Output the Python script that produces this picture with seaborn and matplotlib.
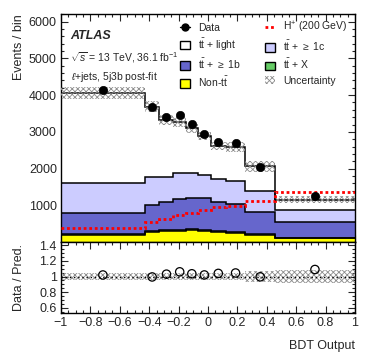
import numpy as np
import pandas as pd
import matplotlib
matplotlib.use('Agg')
import matplotlib.pyplot as plt
import seaborn as sns
from matplotlib.lines import Line2D
from matplotlib.patches import Patch
from matplotlib.ticker import MultipleLocator, FixedLocator, FuncFormatter

# bin edges of BDT output
edges = [-1, -0.43, -0.33, -0.235, -0.15, -0.07, 0.02, 0.12, 0.255, 0.455, 1]

# observed data
data = [4140, 3670, 3415, 3470, 3207, 2943, 2716, 2710, 2052, 1253]

# stacked background tops (cumulative)
top_nontt = [190, 264, 300, 308, 327, 300, 272, 253, 190, 100]
top_ttx = [215, 290, 330, 338, 357, 330, 300, 280, 215, 120]
top_tt1b = [790, 1008, 1081, 1163, 1190, 1208, 1081, 1045, 809, 553]
top_tt1c = [1620, 1763, 1775, 1872, 1872, 1835, 1708, 1671, 1390, 872]
top_total = [4060, 3690, 3315, 3274, 3099, 2885, 2612, 2593, 2060, 1150]

# signal H+ (200 GeV), not stacked
hplus = [390, 553, 627, 736, 799, 872, 955, 975, 1120, 1371]

# relative uncertainty on total prediction
rel_unc = [0.04, 0.04, 0.04, 0.04, 0.04, 0.04, 0.045, 0.05, 0.075, 0.08]

edges = np.array(edges)
centers = (edges[:-1] + edges[1:]) / 2
total = np.array(top_total, dtype=float)
unc = np.array(rel_unc)
ratio = np.array(data) / total

sns.set_style("ticks")
plt.rcParams['font.family'] = ['Liberation Sans', 'DejaVu Sans']
plt.rcParams['mathtext.fontset'] = 'custom'
plt.rcParams['mathtext.rm'] = 'Liberation Sans'
plt.rcParams['mathtext.it'] = 'Liberation Sans:italic'
plt.rcParams['mathtext.bf'] = 'Liberation Sans:bold'
plt.rcParams['hatch.linewidth'] = 0.6

fig = plt.figure(figsize=(3.74, 3.59), dpi=100)
ax = fig.add_axes([61/374, 1-242/359, 294/374, 228/359])
rax = fig.add_axes([61/374, 1-313/359, 294/374, 71/359])

# stack, drawn from top down
stack = [(top_total, 'white'), (top_tt1c, '#ccccff'), (top_tt1b, '#6666cc'),
         (top_ttx, '#66cc66'), (top_nontt, '#ffff00')]
for vals, col in stack:
    ax.stairs(vals, edges, baseline=0, fill=True, color=col, zorder=1)
    ax.stairs(vals, edges, baseline=None, color='black', lw=1.1, zorder=2)

# uncertainty band
ax.stairs(total * (1 + unc), edges, baseline=total * (1 - unc), fill=True,
          facecolor='none', edgecolor='#8c8c8c', hatch='xxxxxx', lw=0, zorder=3)
# H+ signal
ax.stairs(hplus, edges, baseline=None, color='red', lw=2, ls=(0, (1, 1)), zorder=4)

df = pd.DataFrame({'x': centers, 'y': data, 'r': ratio})
sns.scatterplot(data=df, x='x', y='y', ax=ax, color='black', s=36,
                edgecolor='black', zorder=5, legend=False)

ax.set_xlim(-1, 1)
ax.set_ylim(0, 6210)
ax.set_xlabel('')
ax.set_ylabel('Events / bin', fontsize=9, loc='top')
ax.yaxis.set_label_coords(-0.122, 1.0)
ax.yaxis.set_major_locator(FixedLocator([1000, 2000, 3000, 4000, 5000, 6000]))
ax.yaxis.set_minor_locator(MultipleLocator(200))
ax.xaxis.set_major_locator(MultipleLocator(0.2))
ax.xaxis.set_minor_locator(MultipleLocator(0.05))
ax.tick_params(labelbottom=False)

ax.text(0.03, 0.903, 'ATLAS', transform=ax.transAxes, fontsize=9,
        fontweight='bold', fontstyle='italic', va='center')
ax.text(0.03, 0.807, r'$\sqrt{s}$ = 13 TeV, 36.1 fb$^{-1}$', transform=ax.transAxes,
        fontsize=7.5, va='center')
ax.text(0.035, 0.724, r'$\ell$+jets, 5j3b post-fit', transform=ax.transAxes,
        fontsize=7.5, va='center')

tt = r'$\mathrm{t\bar{t}}$'
handles = [
    Line2D([], [], color='black', marker='o', markersize=5, lw=1),
    Patch(facecolor='white', edgecolor='black', lw=1),
    Patch(facecolor='#6666cc', edgecolor='black', lw=1),
    Patch(facecolor='#ffff00', edgecolor='black', lw=1),
    Line2D([], [], color='red', lw=2, ls=(0, (1, 1))),
    Patch(facecolor='#ccccff', edgecolor='black', lw=1),
    Patch(facecolor='#66cc66', edgecolor='black', lw=1),
    Patch(facecolor='none', edgecolor='#8c8c8c', hatch='xxxxxx', lw=0),
]
labels = ['Data', tt + ' + light', tt + r' + $\geq$ 1b', 'Non-' + tt,
          r'H$^{+}$ (200 GeV)', tt + r' + $\geq$ 1c', tt + ' + X', 'Uncertainty']
ax.legend(handles, labels, ncol=2, loc='upper left', bbox_to_anchor=(0.405, 0.975),
          frameon=False, fontsize=7.5, handlelength=0.95, handleheight=0.85,
          handletextpad=0.8, labelspacing=0.4, columnspacing=2.3, borderpad=0,
          borderaxespad=0)

# ratio panel
rax.stairs(1 + unc, edges, baseline=1 - unc, fill=True, facecolor='none',
           edgecolor='#8c8c8c', hatch='xxxxxx', lw=0, zorder=1)
rax.axhline(1, color='black', lw=1, ls=(0, (1, 2)), zorder=2)
sns.scatterplot(data=df, x='x', y='r', ax=rax, facecolor='none', s=36,
                edgecolor='black', linewidth=0.9, zorder=3, legend=False)
rax.set_xlim(-1, 1)
rax.set_ylim(0.535, 1.44)
rax.yaxis.set_major_locator(FixedLocator([0.6, 0.8, 1.0, 1.2, 1.4]))
rax.yaxis.set_minor_locator(MultipleLocator(0.05))
rax.xaxis.set_major_locator(FixedLocator([-1, -0.8, -0.6, -0.4, -0.2, 0, 0.2, 0.4, 0.6, 0.8, 1]))
rax.xaxis.set_minor_locator(MultipleLocator(0.05))
fmt = FuncFormatter(lambda v, p: f'{round(v, 6) + 0:g}'.replace('-', '\u2212'))
rax.xaxis.set_major_formatter(fmt)
rax.yaxis.set_major_formatter(fmt)
rax.set_ylabel('Data / Pred.', fontsize=9)
rax.yaxis.set_label_coords(-0.122, 0.5)
rax.set_xlabel('BDT Output', fontsize=9, loc='right')
rax.xaxis.set_label_coords(1.0, -0.38)

for a in (ax, rax):
    a.tick_params(which='both', direction='in', top=True, right=True,
                  labelsize=9, pad=3, width=0.8)
    a.tick_params(which='major', length=5)
    a.tick_params(which='minor', length=2.5)
    for s in a.spines.values():
        s.set_linewidth(1)
        s.set_color('black')

fig.savefig('out.png', dpi=100)
